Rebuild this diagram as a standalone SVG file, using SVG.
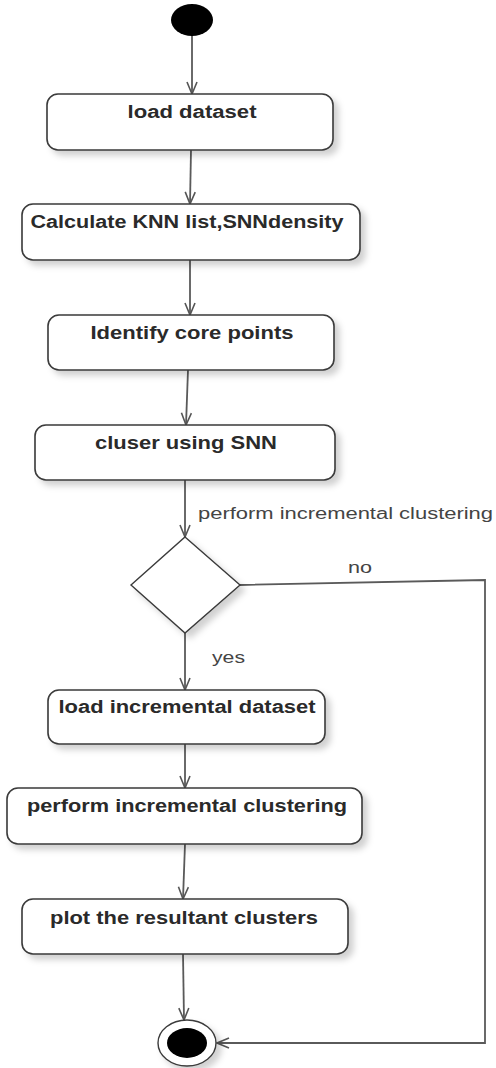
<svg xmlns="http://www.w3.org/2000/svg" width="496" height="1068" viewBox="0 0 496 1068">
  <defs>
    <filter id="shadow" x="-10%" y="-20%" width="130%" height="150%">
      <feDropShadow dx="5" dy="5" stdDeviation="3" flood-color="#000" flood-opacity="0.18"/>
    </filter>
    <marker id="arrow" viewBox="0 0 14 12" refX="13" refY="6" markerWidth="14" markerHeight="12" markerUnits="userSpaceOnUse" orient="auto">
      <path d="M1,1 L13,6 L1,11" fill="none" stroke="#555" stroke-width="1.6"/>
    </marker>
  </defs>
  <style>
    .bg { fill: #fff; }
    .action { fill: #fff; stroke: #3a3a3a; stroke-width: 1.6; filter: url(#shadow); }
    .decision { fill: #fff; stroke: #3a3a3a; stroke-width: 1.4; filter: url(#shadow); }
    .flow { fill: none; stroke: #5a5a5a; stroke-width: 1.8; marker-end: url(#arrow); }
    .label { font-family: "Liberation Sans", Arial, sans-serif; font-size: 18px; font-weight: bold; fill: #2a2a2a; text-anchor: middle; }
    .guard { font-family: "Liberation Sans", Arial, sans-serif; font-size: 16px; fill: #444; }
  </style>
  <rect class="bg" x="0" y="0" width="496" height="1068"/>

  <!-- control flow -->
  <g id="connectors">
    <line class="flow" x1="192" y1="36" x2="192" y2="94"/>
    <line class="flow" x1="191" y1="150" x2="190" y2="204"/>
    <line class="flow" x1="190" y1="260" x2="190" y2="315"/>
    <line class="flow" x1="188" y1="370" x2="186" y2="425"/>
    <line class="flow" x1="185" y1="480" x2="185" y2="537"/>
    <line class="flow" x1="185" y1="633" x2="185" y2="690"/>
    <line class="flow" x1="185" y1="744" x2="185" y2="788"/>
    <line class="flow" x1="185" y1="844" x2="183" y2="899"/>
    <line class="flow" x1="183" y1="954" x2="184" y2="1020"/>
    <polyline class="flow" points="240,585 485,580 485,1043 217,1043"/>
    <text class="guard" x="198" y="519" textLength="295" lengthAdjust="spacingAndGlyphs">perform incremental clustering</text>
    <text class="guard" x="348" y="573" textLength="24" lengthAdjust="spacingAndGlyphs">no</text>
    <text class="guard" x="212" y="663" textLength="33" lengthAdjust="spacingAndGlyphs">yes</text>
  </g>

  <g id="start">
    <ellipse cx="192" cy="20" rx="21" ry="16" fill="#000"/>
  </g>

  <g id="load-dataset">
    <rect class="action" x="47" y="94" width="286" height="56" rx="11"/>
    <text class="label" x="192" y="118" textLength="129" lengthAdjust="spacingAndGlyphs">load dataset</text>
  </g>

  <g id="calculate-knn">
    <rect class="action" x="22" y="204" width="338" height="56" rx="11"/>
    <text class="label" x="187" y="228" textLength="313" lengthAdjust="spacingAndGlyphs">Calculate KNN list,SNNdensity</text>
  </g>

  <g id="identify-core">
    <rect class="action" x="48" y="315" width="286" height="55" rx="11"/>
    <text class="label" x="192" y="339" textLength="203" lengthAdjust="spacingAndGlyphs">Identify core points</text>
  </g>

  <g id="cluster-snn">
    <rect class="action" x="35" y="425" width="300" height="55" rx="11"/>
    <text class="label" x="186" y="449" textLength="182" lengthAdjust="spacingAndGlyphs">cluser using SNN</text>
  </g>

  <g id="decision">
    <polygon class="decision" points="185,537 240,585 185,633 131,585"/>
  </g>

  <g id="load-incremental">
    <rect class="action" x="48" y="690" width="277" height="54" rx="11"/>
    <text class="label" x="187" y="713" textLength="257" lengthAdjust="spacingAndGlyphs">load incremental dataset</text>
  </g>

  <g id="incremental-clustering">
    <rect class="action" x="7" y="788" width="355" height="56" rx="11"/>
    <text class="label" x="187" y="812" textLength="320" lengthAdjust="spacingAndGlyphs">perform incremental clustering</text>
  </g>

  <g id="plot-clusters">
    <rect class="action" x="22" y="899" width="326" height="55" rx="11"/>
    <text class="label" x="184" y="924" textLength="268" lengthAdjust="spacingAndGlyphs">plot the resultant clusters</text>
  </g>

  <g id="end">
    <ellipse cx="187" cy="1043" rx="29" ry="23" fill="#fff" stroke="#3a3a3a" stroke-width="1.4" filter="url(#shadow)"/>
    <ellipse cx="187" cy="1043" rx="20" ry="15" fill="#000"/>
  </g>
</svg>
